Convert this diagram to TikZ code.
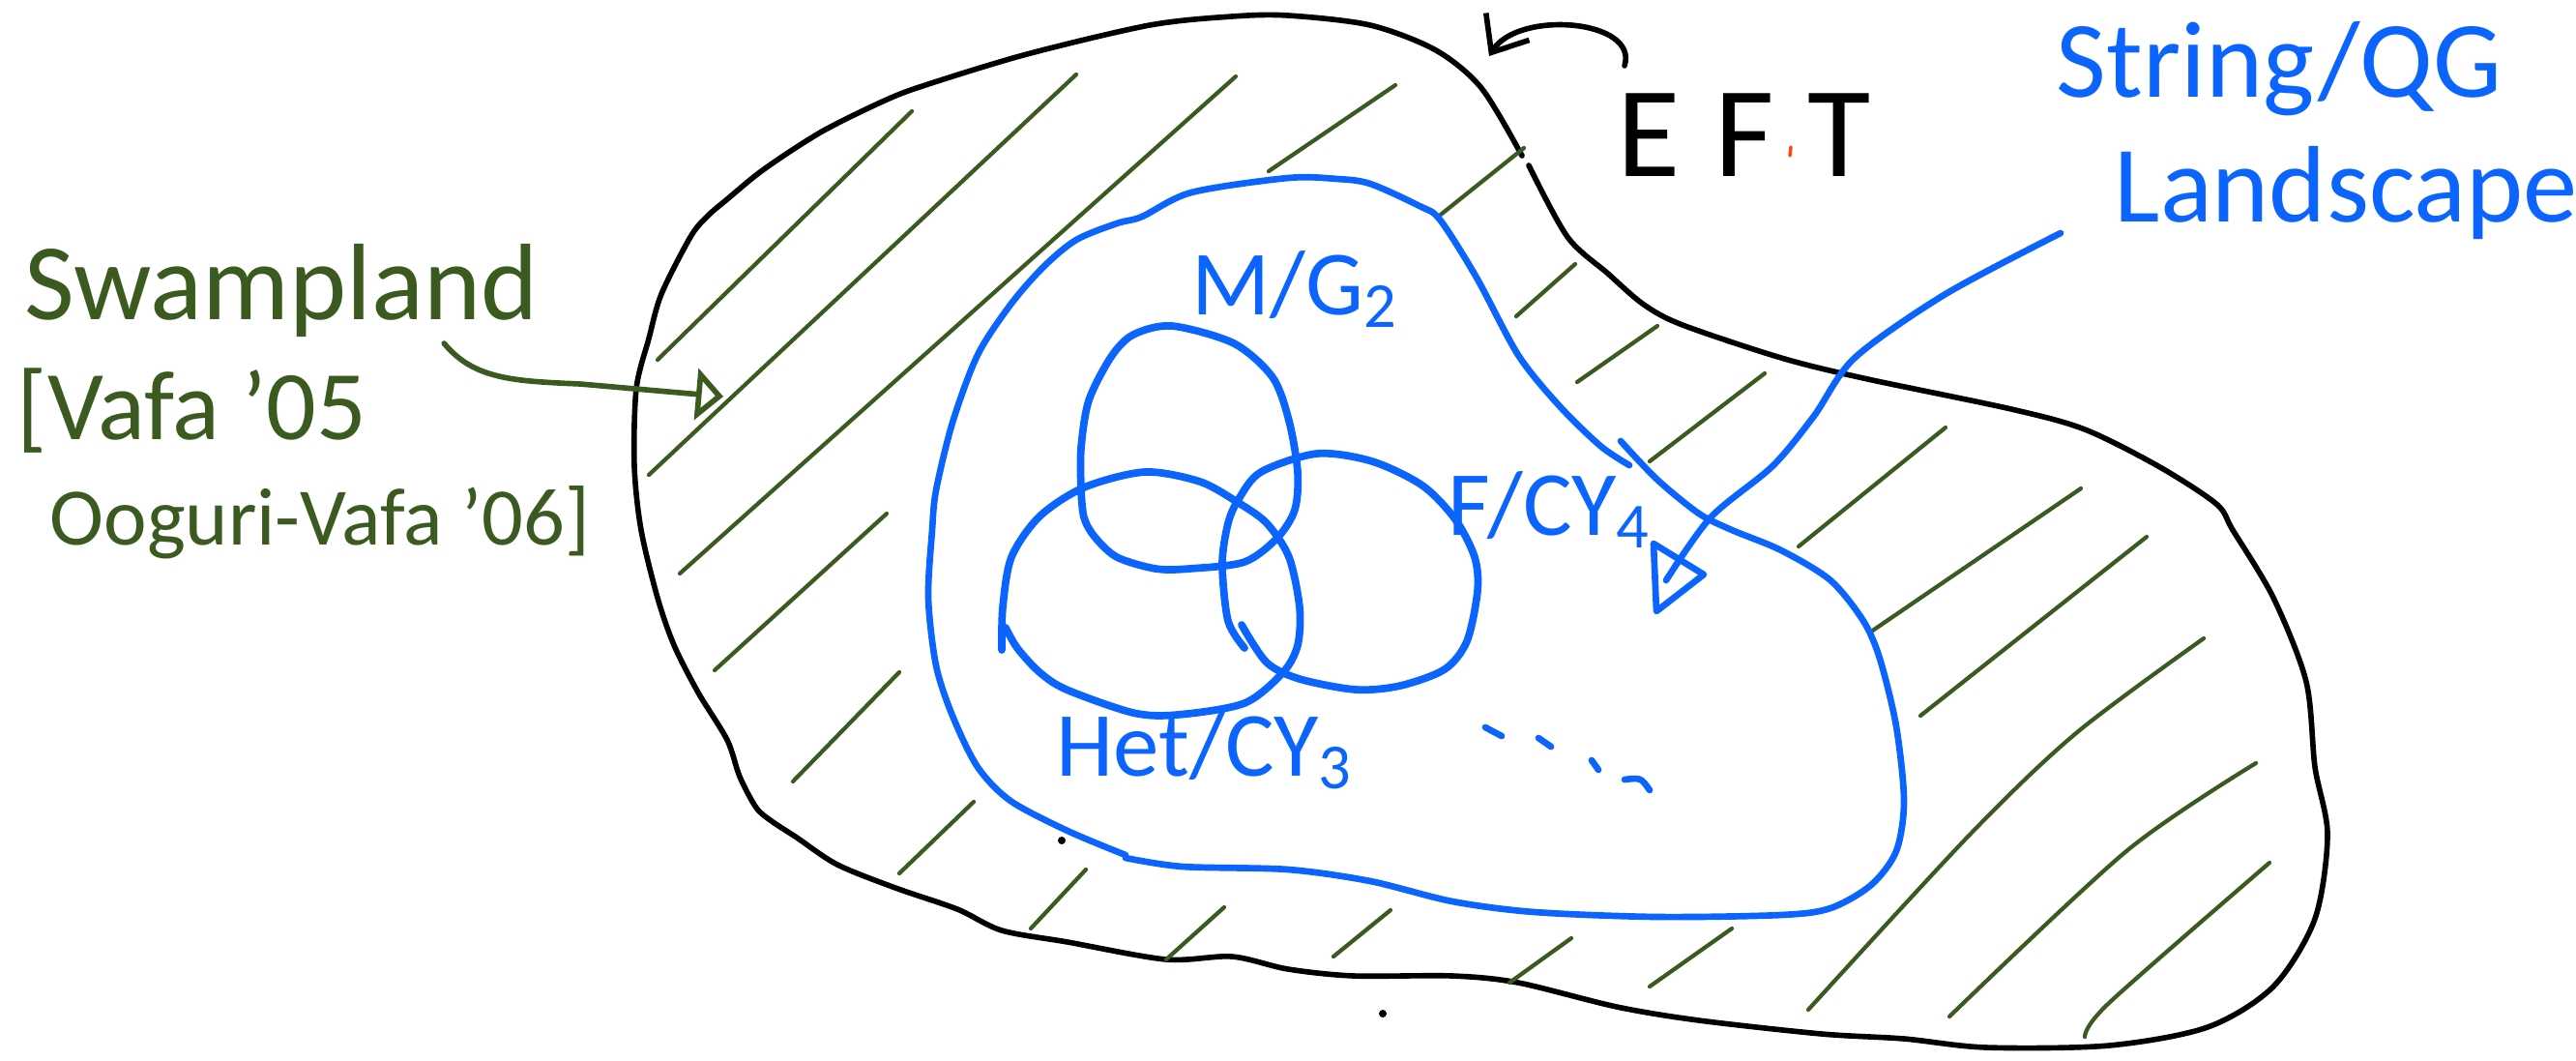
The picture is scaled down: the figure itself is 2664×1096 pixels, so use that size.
\documentclass[tikz,border=0pt]{standalone}
\usepackage{fontspec}
\setmainfont{Carlito}
\usetikzlibrary{positioning,arrows.meta}
\definecolor{swampgreen}{RGB}{58,90,32}
\definecolor{qgblue}{RGB}{12,100,255}
\definecolor{dotred}{RGB}{255,70,20}

\begin{document}
\begin{tikzpicture}[x=0.01cm, y=-0.01cm,
  eftline/.style={line width=1.6pt, line cap=round, line join=round},
  qgline/.style={qgblue, line width=1.9pt, line cap=round, line join=round},
  ring/.style={qgline, line width=2.2pt},
  hatch/.style={swampgreen, line width=1.2pt, line cap=round},
  hand/.style={inner sep=0pt, anchor=base west},
  swamptext/.style={hand, text=swampgreen},
  qgtext/.style={hand, text=qgblue},
  greenarr/.style={swampgreen, line width=1.6pt, line cap=round, -{Triangle[open, length=8pt, width=15pt]}},
  eftarr/.style={eftline, -{Straight Barb[length=9pt, width=15pt]}}]
\useasboundingbox (0,0) rectangle (2664,1096);

% EFT region
\draw[eftline] plot[smooth, tension=0.5] coordinates {
  (1581,171) (1621,245) (1663,283) (1700,315) (1740,336) (1842,370) (1927,391)
  (2080,423) (2156,444) (2232,482) (2292,521) (2309,548) (2351,618) (2385,705)
  (2394,793) (2407,863) (2394,950) (2351,1020) (2283,1062) (2181,1081) (2054,1083)
  (1969,1074) (1884,1069) (1757,1055) (1672,1041) (1570,1016) (1502,1009) (1400,1009)
  (1332,1002) (1274,989) (1206,992) (1104,974) (1036,962) (990,940) (926,918)
  (866,894) (824,866) (798,849) (782,835) (765,803) (752,765) (722,716) (697,667)
  (680,618) (663,548) (656,482) (658,402) (671,350) (684,304) (714,245) (731,224)
  (752,206) (790,175) (850,136) (917,103) (960,87) (1062,56) (1189,26) (1274,17)
  (1332,16) (1417,26) (1485,52) (1532,91) (1574,161)};

% swampland hatching
\foreach \xa/\ya/\xb/\yb in {943/115/680/372, 1113/77/671/491, 1278/79/703/593,
    1443/88/1312/177, 1576/153/1486/225, 917/531/739/693, 930/695/820/808,
    1007/829/930/903, 1123/899/1066/960, 1266/938/1206/992, 1438/941/1379/989,
    1625/970/1561/1016, 1791/960/1706/1020, 1629/273/1568/327, 1714/337/1631/395,
    1825/386/1706/477, 2012/442/1860/565, 2152/505/1935/653, 2220/555/1986/740}
  \draw[hatch] (\xa,\ya) -- (\xb,\yb);
\draw[hatch] plot[smooth] coordinates {(2279,660) (2147,758) (2037,863) (1870,1044)};
\draw[hatch] plot[smooth] coordinates {(2333,789) (2199,880) (2016,1051)};
\draw[hatch] plot[smooth] coordinates {(2347,892) (2181,1037) (2156,1072)};

% landscape
\draw[qgline] plot[smooth, tension=0.5] coordinates {
  (1164,884) (1104,859) (1045,828) (1011,793) (985,740) (968,688) (960,618)
  (964,548) (968,507) (985,437) (1011,367) (1045,315) (1079,276) (1113,248)
  (1155,231) (1181,224) (1232,199) (1332,184) (1383,185) (1417,190) (1468,213)
  (1489,227) (1527,287) (1570,367) (1612,419) (1655,461) (1685,481)};
\draw[qgline] plot[smooth, tension=0.5] coordinates {
  (1676,456) (1714,496) (1757,531) (1791,548) (1842,569) (1893,600) (1927,642)
  (1944,681) (1961,751) (1969,828) (1961,880) (1935,915) (1893,939) (1842,946)
  (1714,948) (1587,943) (1502,932) (1417,911) (1332,899) (1223,896) (1164,887)};

% compactifications
\draw[ring] plot[smooth cycle] coordinates {
  (1212,337) (1276,355) (1316,390) (1333,435) (1342,488) (1339,527) (1321,556)
  (1287,581) (1230,588) (1195,588) (1155,576) (1132,555) (1121,535) (1118,505)
  (1118,463) (1126,414) (1149,369) (1172,346)};
\draw[ring] plot[smooth] coordinates {
  (1036,672) (1037,628) (1046,576) (1075,534) (1121,504) (1184,488) (1241,498)
  (1281,520) (1310,541) (1333,576) (1344,628) (1342,667) (1327,695) (1287,727)
  (1218,739) (1172,737) (1103,713) (1075,695) (1052,670) (1040,649)};
\draw[ring] plot[smooth] coordinates {
  (1287,670) (1270,642) (1264,583) (1270,541) (1281,516) (1304,488) (1362,469)
  (1419,477) (1471,502) (1505,537) (1525,576) (1528,611) (1517,663) (1494,692)
  (1448,709) (1402,713) (1344,702) (1310,685) (1284,646)};

\node[qgtext, font=\fontsize{27}{30}\selectfont] (mg) at (1232,325) {M/G\textsubscript{2}};
\node[qgtext, font=\fontsize{27}{30}\selectfont] (fcy) at (1497,553) {F/CY\textsubscript{4}};
\node[qgtext, font=\fontsize{27}{30}\selectfont] (het) at (1092,802) {Het/CY\textsubscript{3}};
\draw[qgline] (1536,752) -- (1553,761);
\draw[qgline] (1591,763) -- (1604,772);
\draw[qgline] (1646,786) -- (1653,796);
\draw[qgline] (1680,806) .. controls (1697,804) .. (1706,817);

% labels
\node[hand, font=\fontsize{38}{42}\selectfont] (eft) at (1672,182) {E\hspace{10pt}F\hspace{10pt}T};
\node[qgtext, font=\fontsize{32}{36}\selectfont] (qg) at (2126,100) {String/QG};
\node[qgtext, font=\fontsize{32}{36}\selectfont] (land) at (2186,229) {Landscape};
\node[swamptext, font=\fontsize{32}{36}\selectfont] (swamp) at (25,330) {Swampland};
\node[swamptext, font=\fontsize{29}{34}\selectfont] (vafa) at (17,454) {[Vafa '05};
\node[swamptext, font=\fontsize{24}{28}\selectfont] (ov) at (51,563) {Ooguri-Vafa '06]};

% arrows
\coordinate (eftstart) at ([xshift=0.08cm, yshift=1.14cm]eft.base west);
\draw[eftarr] (eftstart) .. controls (1695,20) and (1570,10) .. (1540,58);
\coordinate (swstart) at ([xshift=4.34cm, yshift=-0.25cm]swamp.base west);
\coordinate (swtip) at (748,410);
\draw[greenarr] (swstart) .. controls (490,392) and (530,394) .. (600,397) -- (swtip);
\coordinate (qgstart) at ([xshift=-0.55cm, yshift=-0.12cm]land.base west);
\coordinate (ftip) at (1723,600);
\draw[qgline] plot[smooth] coordinates {(qgstart) (2012,304) (1918,370) (1876,430) (1833,482) (1769,535) (ftip)};
\draw[qgline] ([shift={(-13,-38)}]ftip) -- ([shift={(39,-6)}]ftip) -- ([shift={(-10,32)}]ftip) -- cycle;

% stray marks
\fill (1098,869) circle (4);
\fill (1430,1048) circle (4);
\draw[dotred, line width=1pt, line cap=round] (1852,152) -- (1851,161);
\end{tikzpicture}
\end{document}
